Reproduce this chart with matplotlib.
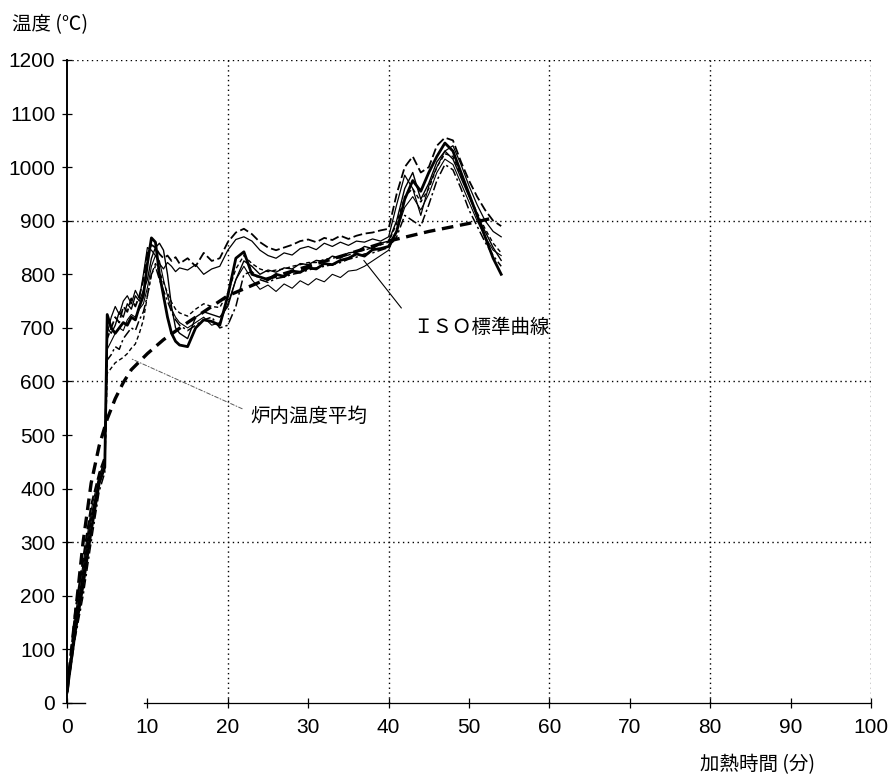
import numpy as np
import matplotlib
matplotlib.use("Agg")
import matplotlib.pyplot as plt

plt.rcParams['font.family'] = ['Liberation Sans', 'Noto Sans CJK JP', 'DejaVu Sans']

# time axis (min)
t = [0, 1, 2, 3, 4, 4.7, 5,
     5.5, 6, 6.5, 7, 7.5, 8, 8.5, 9, 9.5, 10, 10.5, 11, 11.5, 12, 12.5, 13, 13.5, 14,
     15, 16, 17, 18, 19, 20, 21, 22, 23, 24, 25, 26, 27, 28, 29, 30, 31, 32, 33, 34,
     35, 36, 37, 38, 39, 40, 41, 42, 43, 44, 45, 46, 47, 48, 49, 50, 51, 52, 53, 54]

# thermocouple readings (degC)
tc1 = [20, 130, 220, 320, 410, 440, 725,
       700, 690, 700, 710, 705, 720, 715, 740, 760, 820, 868, 860, 800, 760, 720, 690, 675, 668,
       665, 700, 715, 712, 705, 760, 830, 842, 800, 795, 790, 800, 796, 806, 804, 812, 810, 820, 818, 826,
       830, 838, 834, 846, 848, 852, 880, 940, 975, 955, 990, 1020, 1045, 1030, 990, 950, 910, 870, 830, 800]
tc2 = [20, 150, 240, 340, 420, 455, 700,
       690, 705, 730, 720, 745, 735, 760, 750, 770, 790, 830, 850, 858, 845, 800, 740, 700, 690,
       680, 720, 730, 725, 720, 740, 790, 825, 815, 800, 808, 804, 812, 810, 820, 818, 826, 824, 834, 830,
       840, 842, 852, 848, 858, 862, 900, 960, 990, 940, 970, 1010, 1030, 1015, 980, 945, 910, 880, 850, 826]
tc3 = [20, 170, 270, 370, 430, 460, 680,
       700, 720, 710, 740, 730, 755, 740, 760, 790, 840, 855, 850, 838, 830, 835, 825, 832, 820,
       830, 815, 840, 825, 830, 860, 878, 885, 875, 860, 850, 845, 850, 855, 862, 865, 860, 868, 864, 872,
       866, 872, 876, 878, 882, 885, 950, 1000, 1020, 990, 1000, 1040, 1055, 1050, 1010, 975, 945, 920, 900, 890]
tc4 = [20, 140, 250, 350, 415, 445, 690,
       720, 740, 725, 750, 760, 745, 770, 755, 800, 850, 845, 835, 820, 810, 822, 815, 805, 812,
       808, 818, 800, 810, 815, 845, 865, 870, 862, 845, 835, 830, 840, 836, 848, 852, 846, 858, 852, 860,
       854, 862, 860, 866, 862, 870, 930, 985, 960, 910, 965, 1000, 1030, 1040, 1005, 965, 930, 900, 880, 870]
tc5 = [20, 120, 200, 300, 395, 430, 640,
       650, 665, 660, 680, 690, 700, 695, 715, 730, 760, 800, 815, 790, 770, 750, 730, 715, 705,
       695, 705, 715, 720, 700, 705, 740, 800, 805, 790, 785, 792, 795, 800, 803, 808, 812, 815, 818, 822,
       828, 832, 838, 840, 845, 850, 870, 910, 900, 890, 930, 975, 1005, 995, 960, 920, 890, 860, 835, 815]
tc6 = [20, 160, 260, 360, 425, 450, 660,
       675, 690, 700, 695, 715, 725, 720, 735, 745, 775, 815, 835, 825, 790, 760, 735, 720, 710,
       700, 710, 720, 705, 710, 745, 790, 815, 790, 772, 780, 768, 782, 774, 788, 780, 792, 786, 800, 794,
       806, 808, 815, 825, 835, 845, 880, 925, 945, 920, 950, 990, 1015, 1005, 970, 935, 900, 870, 845, 835]
furnace_avg = [20, 145, 235, 335, 410, 445, 615,
               625, 635, 640, 645, 652, 662, 670, 690, 715, 760, 800, 820, 805, 785, 765, 748, 735, 728,
               722, 735, 745, 740, 738, 765, 810, 835, 820, 810, 805, 808, 810, 815, 818, 822, 822, 828, 830, 833,
               836, 842, 845, 850, 855, 860, 895, 945, 960, 935, 960, 1000, 1025, 1020, 985, 948, 915, 885, 858, 840]

# ISO standard curve
iso_t = [0, 1, 2, 3, 4, 5, 6, 7, 8, 10, 12, 15, 20, 25, 30, 35, 40, 45, 50, 53]
iso_T = [20, 160, 300, 410, 480, 530, 568, 598, 622, 652, 678, 710, 760, 792, 815, 838, 862, 880, 895, 905]

fig = plt.figure(figsize=(8.91, 7.81), dpi=100)
ax = fig.add_axes([0.0752, 0.0999, 0.9024, 0.8233])

styles = [
    (tc1, dict(color='black', lw=2.0, ls='-')),
    (tc2, dict(color='black', lw=1.0, ls='-')),
    (tc3, dict(color='black', lw=1.3, ls=(0, (5, 2)))),
    (tc4, dict(color='black', lw=0.9, ls='-')),
    (tc5, dict(color='black', lw=1.1, ls=(0, (6, 2, 1.5, 2)))),
    (tc6, dict(color='black', lw=0.8, ls='-')),
    (furnace_avg, dict(color='black', lw=1.0, ls=(0, (3, 2)))),
]
for series, kw in styles:
    ax.plot(t, series, **kw)

ax.plot(iso_t, iso_T, color='black', lw=2.4, ls=(0, (3.5, 2)))

# dotted grid frame
for gx in np.arange(20, 101, 20):
    ax.axvline(gx, color='black', lw=1.0, ls=(0, (1, 2.5)), zorder=0)
for gy in np.arange(300, 1201, 300):
    ax.axhline(gy, color='black', lw=1.0, ls=(0, (1, 2.5)), zorder=0)

ax.set_xlim(0, 100)
ax.set_ylim(0, 1200)
ax.set_xticks(np.arange(0, 101, 10))
ax.set_yticks(np.arange(0, 1201, 100))
for s in ['top', 'right', 'bottom']:
    ax.spines[s].set_visible(False)
ax.spines['left'].set_linewidth(1.4)

# broken bottom axis line as in the original
ax.plot([0, 2.2], [0, 0], color='black', lw=1.0, clip_on=False)
ax.plot([9.6, 100], [0, 0], color='black', lw=0.9, clip_on=False)

ax.tick_params(axis='both', direction='inout', length=7, width=0.9, labelsize=15)
ax.tick_params(axis='x', pad=7)
ax.tick_params(axis='y', pad=5)

# annotations
ax.annotate('', xy=(36.7, 830), xytext=(41.8, 733),
            arrowprops=dict(arrowstyle='-', color='black', lw=0.8))
ax.text(43.0, 701, 'ＩＳＯ標準曲線', fontsize=14, va='center', ha='left',
        family=['Noto Sans CJK JP'])
ax.annotate('', xy=(7.6, 645), xytext=(22.1, 547),
            arrowprops=dict(arrowstyle='-', color='0.35', lw=0.7, ls=(0, (4, 2, 1, 2))))
ax.text(22.8, 534, '炉内温度平均', fontsize=14, va='center', ha='left',
        family=['Noto Sans CJK JP'])

fig.text(12 / 891, 1 - 25 / 781, '温度 (℃)', fontsize=14, va='center', ha='left',
         family=['Noto Sans CJK JP', 'DejaVu Sans'])
fig.text(757 / 891, 1 - 765 / 781, '加熱時間 (分)', fontsize=14, va='center', ha='center',
         family=['Noto Sans CJK JP', 'DejaVu Sans'])

fig.savefig('out.png', dpi=100)
